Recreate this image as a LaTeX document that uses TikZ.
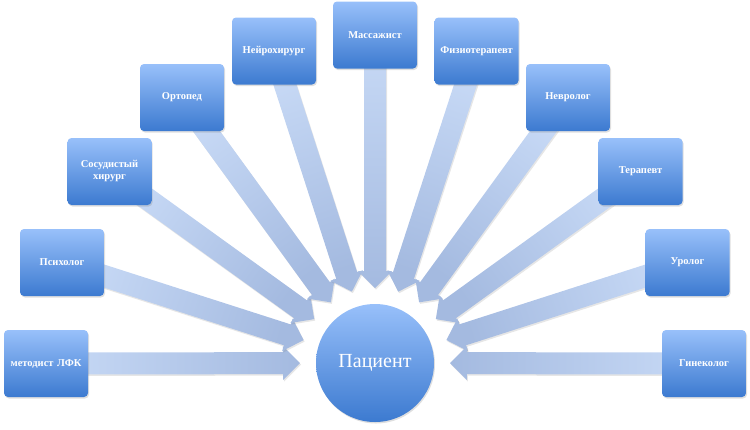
\documentclass[tikz,border=0pt]{standalone}
\usepackage{fontspec}
\setmainfont{Liberation Serif}
\usetikzlibrary{calc,shadows,backgrounds}
\definecolor{boxtop}{RGB}{152,192,250}
\definecolor{boxbot}{RGB}{60,122,208}
\definecolor{arrlight}{RGB}{200,218,246}
\definecolor{arrdark}{RGB}{164,186,224}

\begin{document}
\begin{tikzpicture}[x=1pt, y=-1pt,
  doctor/.style={rounded corners=4pt, minimum width=84pt, minimum height=67pt,
    text width=78pt, align=center, inner sep=0pt, top color=boxtop, bottom color=boxbot,
    text=white, font=\fontsize{10.5}{12}\selectfont\bfseries,
    drop shadow={opacity=0.25, shadow xshift=1pt, shadow yshift=-1.5pt}},
  patient/.style={circle, minimum size=118pt, inner sep=0pt, top color=boxtop,
    bottom color=boxbot, text=white, font=\fontsize{20}{24}\selectfont,
    drop shadow={opacity=0.25, shadow xshift=1pt, shadow yshift=-1.5pt}},
  blockarrow/.style={top color=arrlight, bottom color=arrdark,
    drop shadow={opacity=0.2, shadow xshift=1pt, shadow yshift=-1.5pt}}]
\useasboundingbox (0,0) rectangle (750,429);

\node[patient] (pat) at (375,363) {Пациент};

\node[doctor] (lfk) at (46,363.5) {методист ЛФК};
\node[doctor] (psy) at (62,262.5) {Психолог};
\node[doctor] (vasc) at (109.5,171.5) {Сосудистый\\хирург};
\node[doctor] (orto) at (182,97.5) {Ортопед};
\node[doctor] (nsurg) at (274,51) {Нейрохирург};
\node[doctor] (mass) at (375,35) {Массажист};
\node[doctor] (fizio) at (476.5,51) {Физиотерапевт};
\node[doctor] (nevr) at (568,97.5) {Невролог};
\node[doctor] (ter) at (640.5,171.5) {Терапевт};
\node[doctor] (uro) at (687.5,262.5) {Уролог};
\node[doctor] (gin) at (704,363.5) {Гинеколог};

% arrows from every doctor to the patient
\begin{scope}[on background layer]
\foreach \b in {lfk,psy,vasc,orto,nsurg,mass,fizio,nevr,ter,uro,gin}{
  \coordinate (tip-\b) at ($(pat.center)!75pt!(\b.center)$);
  \coordinate (base-\b) at ($(tip-\b)!17pt!(\b.center)$);
  \pgfmathanglebetweenpoints{\pgfpointanchor{tip-\b}{center}}{\pgfpointanchor{\b}{center}}
  \pgfmathsetmacro\dirang{\pgfmathresult-90}
  \shade[blockarrow, shading angle=\dirang]
    ($(\b.center)!11pt!90:(tip-\b)$) -- ($(base-\b)!11pt!90:(tip-\b)$)
    -- ($(base-\b)!17pt!90:(tip-\b)$) -- (tip-\b)
    -- ($(base-\b)!17pt!-90:(tip-\b)$) -- ($(base-\b)!11pt!-90:(tip-\b)$)
    -- ($(\b.center)!11pt!-90:(tip-\b)$) -- cycle;
}
\end{scope}
\end{tikzpicture}
\end{document}
